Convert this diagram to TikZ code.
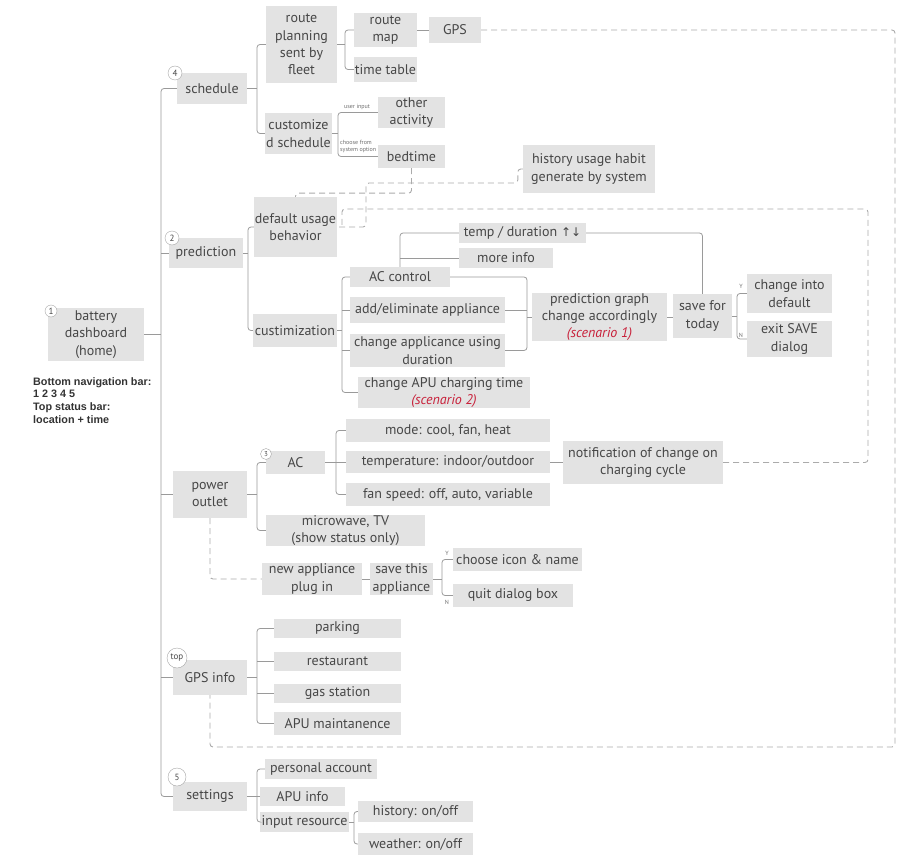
\documentclass[tikz,border=0pt]{standalone}
\usepackage{fontspec}
\setmainfont{PT Sans}
\newfontfamily\arrowfont{DejaVu Sans}
\newfontfamily\notefont{Liberation Sans}
\definecolor{boxgray}{HTML}{E3E3E3}
\definecolor{txt}{HTML}{474747}
\definecolor{ln}{HTML}{9A9A9A}
\definecolor{dshc}{HTML}{ABABAB}
\definecolor{scen}{HTML}{C8203A}
\tikzset{
  box/.style={fill=boxgray, text=txt, inner sep=0pt, align=center, font=\fontsize{14}{17.3}\selectfont},
  conn/.style={draw=ln, line width=0.8pt, rounded corners=3pt},
  dashconn/.style={draw=dshc, line width=0.9pt, dash pattern=on 6pt off 4pt, rounded corners=3pt},
  num/.style={circle, draw=gray!70, fill=white, text=txt, inner sep=0pt, font=\fontsize{9}{9}\selectfont},
  tinylabel/.style={text=txt!80, inner sep=0pt, font=\fontsize{6}{7}\selectfont, align=left}
}
\newcommand\mybox[6]{\node[box, minimum width=#4pt, minimum height=#5pt] (#1) at (#2,#3) {#6};}
\begin{document}
\begin{tikzpicture}[x=1pt,y=-1pt]
\useasboundingbox (0,0) rectangle (900,856);
% boxes
\mybox{batt}{96}{334.5}{96}{53}{battery\\dashboard\\(home)}
\mybox{sched}{212}{88.5}{70}{31}{schedule}
\mybox{route}{301.5}{44.5}{71}{77}{route\\planning\\sent by\\fleet}
\mybox{rmap}{385.5}{30}{63}{34}{route\\map}
\mybox{gps}{455}{30}{52}{26}{GPS}
\mybox{ttable}{385.5}{69.5}{63}{25}{time table}
\mybox{csched}{298.5}{133.5}{67}{41}{customize\\d schedule}
\mybox{other}{411.5}{112.5}{67}{31}{other\\activity}
\mybox{bed}{411.5}{156.5}{67}{23}{bedtime}
\mybox{hist}{589}{169}{132}{48}{history usage habit\\generate by system}
\mybox{pred}{206}{253}{74}{30}{prediction}
\mybox{default}{295.5}{227}{83}{60}{default usage\\behavior}
\mybox{custim}{295}{330.5}{84}{33}{custimization}
\mybox{acctl}{400}{277}{100}{20}{AC control}
\mybox{addel}{427.5}{310}{155}{26}{add/eliminate appliance}
\mybox{chgapp}{427.5}{350.5}{155}{33}{change applicance using\\duration}
\mybox{apu}{444}{392.5}{172}{29}{change APU charging time\\{\color{scen}\itshape (scenario 2)}}
\mybox{temp}{522.5}{233}{127}{20}{temp / duration {\arrowfont\fontsize{12}{14}\selectfont ↑↓}}
\mybox{more}{506}{258}{94}{20}{more info}
\mybox{pgraph}{599.5}{317}{135}{48}{prediction graph\\change accordingly\\{\color{scen}\itshape (scenario 1)}}
\mybox{save}{702.5}{316}{59}{44}{save for\\today}
\mybox{cdef}{789.5}{293.5}{85}{39}{change into\\default}
\mybox{exit}{789.5}{339}{85}{36}{exit SAVE\\dialog}
\mybox{power}{210}{494.5}{74}{47}{power\\outlet}
\mybox{ac}{295.5}{462.5}{59}{23}{AC}
\mybox{micro}{345.5}{530.5}{159}{31}{microwave, TV\\(show status only)}
\mybox{mode}{448}{430.5}{204}{23}{mode: cool, fan, heat}
\mybox{temper}{448}{462}{204}{22}{temperature: indoor/outdoor}
\mybox{fan}{448}{494.5}{204}{23}{fan speed: off, auto, variable}
\mybox{notif}{643}{462.5}{160}{43}{notification of change on\\charging cycle}
\mybox{newapp}{312}{579}{100}{32}{new appliance\\plug in}
\mybox{saveapp}{401.5}{579}{63}{32}{save this\\appliance}
\mybox{choose}{517.5}{559.5}{129}{23}{choose icon \& name}
\mybox{quit}{513}{595.5}{120}{23}{quit dialog box}
\mybox{gpsinfo}{210}{677.5}{74}{35}{GPS info}
\mybox{park}{337.5}{628.5}{127}{19}{parking}
\mybox{rest}{337.5}{661.5}{127}{19}{restaurant}
\mybox{gas}{337.5}{693.5}{127}{19}{gas station}
\mybox{apum}{337.5}{723.5}{127}{23}{APU maintanence}
\mybox{settings}{210}{796.5}{74}{29}{settings}
\mybox{pers}{321}{769}{112}{20}{personal account}
\mybox{apuinfo}{302.5}{796.5}{85}{19}{APU info}
\mybox{inres}{304.5}{822}{89}{20}{input resource}
\mybox{histo}{415.5}{811.5}{115}{21}{history: on/off}
\mybox{weather}{415.5}{844}{115}{22}{weather: on/off}
% note
\node[anchor=north west, align=left, inner sep=0pt, text=black!80, font=\notefont\bfseries\fontsize{10.8}{12.8}\selectfont] (note) at (33,377) {Bottom navigation bar:\\1 2 3 4 5\\Top status bar:\\location + time};
% trunk
\coordinate (tr) at (161,334.5);
\draw[conn] (batt.east) -- (tr);
\draw[conn] (sched.west) -| (tr) |- (settings.west);
\draw[conn] (pred.west) -- (pred.west -| tr);
\draw[conn] (power.west) -- (power.west -| tr);
\draw[conn] (gpsinfo.west) -- (gpsinfo.west -| tr);
% schedule
\coordinate (sj) at (257,88.5);
\draw[conn] (route.west) -| (sj) |- (csched.west);
\draw[conn] (sched.east) -- (sj);
\coordinate (rj) at (345,44.5);
\draw[conn] (rmap.west) -| (rj) |- (ttable.west);
\draw[conn] (route.east) -- (rj);
\draw[conn] (rmap.east) -- (gps.west);
\coordinate (cj) at (338,133.5);
\draw[conn] (other.west) -| (cj) |- (bed.west);
\draw[conn] (csched.east) -- (cj);
\node[tinylabel] (ui) at (357,107) {user input};
\node[tinylabel, anchor=west] (cso) at (340,146.5) {choose from\\system option};
% prediction
\coordinate (pj) at (248,253);
\draw[conn] (default.west) -| (pj) |- (custim.west);
\draw[conn] (pred.east) -- (pj);
\coordinate (cuj) at (342,330.5);
\draw[conn] (acctl.west) -| (cuj) |- (apu.west);
\draw[conn] (addel.west) -- (addel.west -| cuj);
\draw[conn] (chgapp.west) -- (chgapp.west -| cuj);
\draw[conn] (custim.east) -- (cuj);
\draw[conn] (acctl.north) |- (temp.west);
\draw[conn] (more.west) -- (more.west -| acctl.north);
\draw[conn] (temp.east) -| (save.north);
\coordinate (mj) at (527,317);
\draw[conn] (acctl.east) -| (mj) |- (chgapp.east);
\draw[conn] (addel.east) -- (addel.east -| mj);
\draw[conn] (mj) -- (pgraph.west);
\draw[conn] (pgraph.east) -- (pgraph.east -| save.west);
\coordinate (svj) at (737,316);
\draw[conn] (cdef.west) -| (svj) |- (exit.west);
\draw[conn] (save.east) -- (svj);
\node[tinylabel] (ly1) at (741,286) {Y};
\node[tinylabel] (ln1) at (741,335) {N};
% power outlet
\coordinate (pwj) at (257,494.5);
\draw[conn] (ac.west) -| (pwj) |- (micro.west);
\draw[conn] (power.east) -- (pwj);
\coordinate (aj) at (336,462.5);
\draw[conn] (mode.west) -| (aj) |- (fan.west);
\draw[conn] (ac.east) -- (aj);
\draw[conn] (temper.west) -- (temper.west -| aj);
\draw[conn] (temper.east) -- (temper.east -| notif.west);
\draw[conn] (newapp.east) -- (saveapp.west);
\coordinate (saj) at (442,579);
\draw[conn] (choose.west) -| (saj) |- (quit.west);
\draw[conn] (saveapp.east) -- (saj);
\node[tinylabel] (ly2) at (447,553) {Y};
\node[tinylabel] (ln2) at (447,602) {N};
% GPS info
\coordinate (gj) at (257,677.5);
\draw[conn] (park.west) -| (gj) |- (apum.west);
\draw[conn] (gpsinfo.east) -- (gj);
\draw[conn] (rest.west) -- (rest.west -| gj);
\draw[conn] (gas.west) -- (gas.west -| gj);
% settings
\coordinate (stj) at (257,796.5);
\draw[conn] (pers.west) -| (stj) |- (inres.west);
\draw[conn] (settings.east) -- (stj);
\draw[conn] (apuinfo.west) -- (apuinfo.west -| stj);
\coordinate (ij) at (354,822);
\draw[conn] (histo.west) -| (ij) |- (weather.west);
\draw[conn] (inres.east) -- (ij);
% dashed
\coordinate (gR) at (895,747);
\draw[dashconn] (gps.east) -| (gR) -| (gpsinfo.south);
\draw[dashconn] (bed.south) -- ++(0,25) -| (default.north);
\coordinate (hj) at (366,183);
\draw[dashconn] (hist.west) -- ++(-5,0) |- (hj) |- (default.east);
\coordinate (nR) at (868,209);
\coordinate (dj) at (342,227);
\draw[dashconn] (notif.east) -| (nR) -| (dj);
\draw[dashconn] (power.south) |- (newapp.west);
% number circles
\node[num, minimum size=12pt] (n1) at (51,311) {1};
\node[num, minimum size=14pt] (n4) at (175,73) {4};
\node[num, minimum size=14pt] (n2) at (172,238) {2};
\node[num, minimum size=11pt, font=\fontsize{7}{7}\selectfont] (n3) at (266,454) {3};
\node[num, minimum size=20pt] (ntop) at (177,658) {top};
\node[num, minimum size=18pt] (n5) at (177,777) {5};
\end{tikzpicture}
\end{document}
